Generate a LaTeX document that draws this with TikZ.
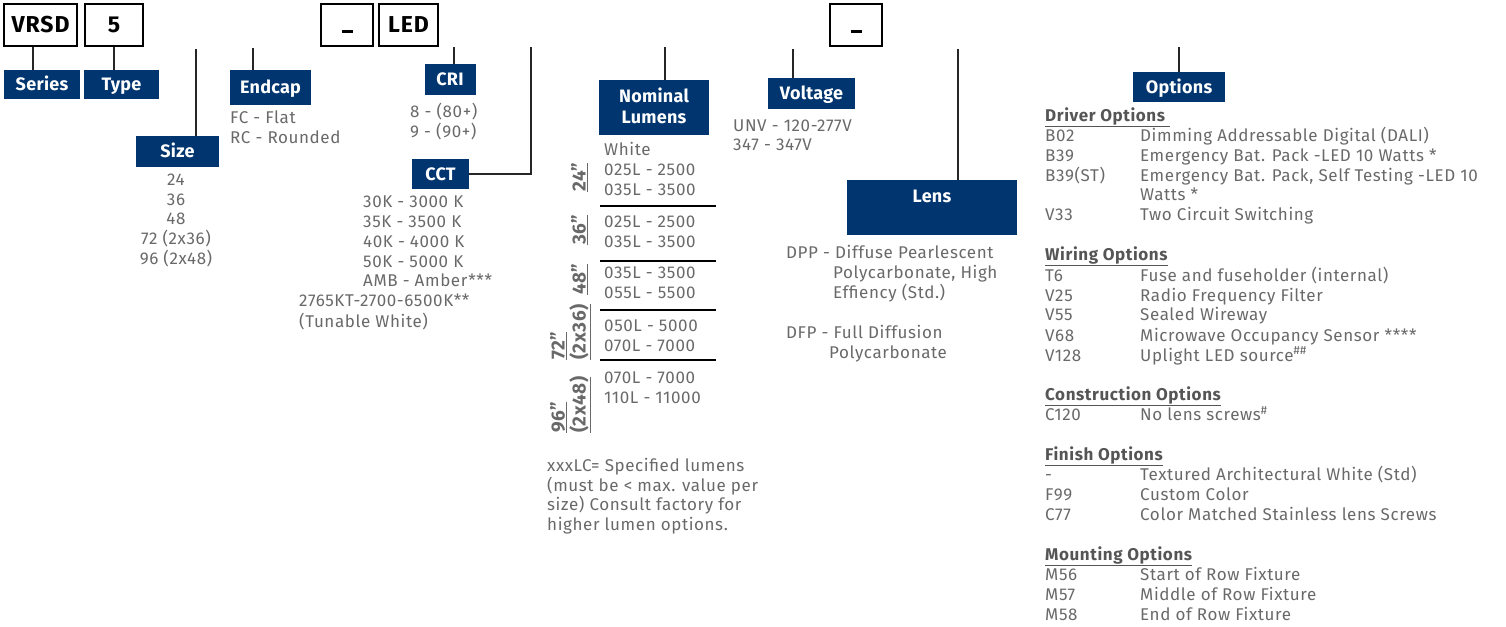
\documentclass[tikz,border=0pt]{standalone}
\usepackage{fontspec}
\setmainfont{Fira Sans}
\newfontfamily\bodyff{Fira Sans}[LetterSpace=3.5]
\newfontfamily\hdrff{Fira Sans}[LetterSpace=1.5]
\newfontfamily\boxff{Fira Sans}[LetterSpace=4]
\newfontfamily\rotff{Fira Sans}[LetterSpace=3]
\definecolor{navy}{RGB}{0,53,112}
\definecolor{txtgray}{RGB}{105,105,105}
\definecolor{hdgray}{RGB}{85,85,85}
\newcommand\fBody{\bodyff\fontsize{17}{20}\selectfont}
\newcommand\fHdr{\hdrff\fontsize{18}{21}\selectfont\bfseries}
\newcommand\fBox{\boxff\fontsize{23}{26}\selectfont\bfseries}
\newcommand\fRot{\rotff\fontsize{19}{22}\selectfont\bfseries}
\newcommand\dashmark{\rule{11pt}{3pt}}
\begin{document}
\begin{tikzpicture}[x=1pt,y=-1pt,
  codebox/.style={draw=black, line width=1.3pt, minimum height=42pt, inner sep=0pt, font=\fBox, text height=15.5pt, text depth=0pt},
  hdr/.style={fill=navy, text=white, font=\fHdr, inner sep=0pt, align=center, text height=12.4pt, text depth=0pt},
  conn/.style={draw=black!85, line width=1.3pt},
  body/.style={text=txtgray, font=\fBody, inner sep=0pt, anchor=base west},
  bodyc/.style={text=txtgray, font=\fBody, inner sep=0pt, anchor=base},
  head/.style={text=hdgray, font=\fBody\bfseries, inner sep=0pt, anchor=base west},
  rot/.style={text=txtgray, font=\fRot, inner sep=0pt, anchor=base west, rotate=90},
  sepline/.style={draw=black, line width=1.4pt}]
\useasboundingbox (0,0) rectangle (1506,626);

% code boxes
\node[codebox, minimum width=73pt] (vrsd) at (40.5,25) {VRSD};
\node[codebox, minimum width=58pt] (five) at (114,25) {5};
\node[codebox, minimum width=52pt] (dashA) at (347,25) {\dashmark};
\node[codebox, minimum width=59pt] (led) at (408.5,25) {LED};
\node[codebox, minimum width=52pt] (dashB) at (856,25) {\dashmark};

% header labels
\node[hdr, minimum width=76pt, minimum height=29pt] (series) at (42,84.5) {Series};
\node[hdr, minimum width=75pt, minimum height=29pt] (type) at (121.5,84.5) {Type};
\node[hdr, minimum width=83pt, minimum height=31pt] (size) at (177.5,151.5) {Size};
\node[hdr, minimum width=81pt, minimum height=35pt] (endcap) at (270.5,87.5) {Endcap};
\node[hdr, minimum width=51pt, minimum height=31pt] (cri) at (450,79.5) {CRI};
\node[hdr, minimum width=57pt, minimum height=30pt] (cct) at (440.5,174) {CCT};
\node[hdr, minimum width=110pt, minimum height=55pt] (nom) at (654,107.5) {};
\node[text=white, font=\fHdr, inner sep=0pt, align=center, anchor=base] (nomA) at (654,102.5) {Nominal};
\node[text=white, font=\fHdr, inner sep=0pt, align=center, anchor=base] (nomB) at (654,123.5) {Lumens};
\node[hdr, minimum width=87pt, minimum height=31pt] (volt) at (811.5,93.5) {Voltage};
\node[hdr, minimum width=170pt, minimum height=55pt] (lens) at (932,207.5) {};
\node[text=white, font=\fHdr, inner sep=0pt, anchor=base] (lenst) at (932,202.5) {Lens};
\node[hdr, minimum width=92pt, minimum height=30pt] (opt) at (1179,87) {Options};

% connectors
\coordinate (sL) at (33,0);
\draw[conn] (vrsd.south -| sL) -- (series.north -| sL);
\draw[conn] (five.south) -- (five.south |- type.north);
\coordinate (sizeTop) at (196,49);
\draw[conn] (sizeTop) -- (sizeTop |- size.north);
\coordinate (endTop) at (253,48);
\draw[conn] (endTop) -- (endTop |- endcap.north);
\coordinate (criTop) at (454,47);
\draw[conn] (criTop) -- (criTop |- cri.north);
\coordinate (cctTop) at (531,47);
\draw[conn] (cctTop) |- (cct.east);
\coordinate (nomTop) at (665,47);
\draw[conn] (nomTop) -- (nomTop |- nom.north);
\coordinate (voltTop) at (793,49);
\draw[conn] (voltTop) -- (voltTop |- volt.north);
\coordinate (lensTop) at (958,49);
\draw[conn] (lensTop) -- (lensTop |- lens.north);
\coordinate (optTop) at (1179,47);
\draw[conn] (optTop) -- (optTop |- opt.north);

% size values
\node[bodyc] (s1) at (176,185.5) {24};
\node[bodyc] (s2) at (176,205) {36};
\node[bodyc] (s3) at (176,224.5) {48};
\node[bodyc] (s4) at (176,244.5) {72 (2x36)};
\node[bodyc] (s5) at (176,264.5) {96 (2x48)};

% endcap values
\node[body] (e1) at (230,123.5) {FC - Flat};
\node[body] (e2) at (230,143.5) {RC - Rounded};

% CRI values
\node[body] (c1) at (410,117.5) {8 - (80+)};
\node[body] (c2) at (410,137.5) {9 - (90+)};

% CCT values
\node[body] (t1) at (363,207.5) {30K - 3000 K};
\node[body] (t2) at (363,227.5) {35K - 3500 K};
\node[body] (t3) at (363,247.5) {40K - 4000 K};
\node[body] (t4) at (363,267.5) {50K - 5000 K};
\node[body] (t5) at (363,286.5) {AMB - Amber***};
\node[body] (t6) at (299,306.5) {2765KT-2700-6500K**};
\node[body] (t7) at (299,327.5) {(Tunable White)};

% lumens
\node[body] (l0) at (604,155.5) {White};
\node[body] (l1) at (604,175.5) {025L - 2500};
\node[body] (l2) at (604,195.5) {035L - 3500};
\node[body] (l3) at (604,227.5) {025L - 2500};
\node[body] (l4) at (604,247.5) {035L - 3500};
\node[body] (l5) at (604,278.5) {035L - 3500};
\node[body] (l6) at (604,298.5) {055L - 5500};
\node[body] (l7) at (604,331.5) {050L - 5000};
\node[body] (l8) at (604,351.5) {070L - 7000};
\node[body] (l9) at (604,383.5) {070L - 7000};
\node[body] (l10) at (604,403.5) {110L - 11000};
\coordinate (sepL) at (600,0);
\coordinate (sepR) at (716,0);
\draw[sepline] (sepL |- 0,206) -- (sepR |- 0,206);
\draw[sepline] (sepL |- 0,261) -- (sepR |- 0,261);
\draw[sepline] (sepL |- 0,310) -- (sepR |- 0,310);
\draw[sepline] (sepL |- 0,360) -- (sepR |- 0,360);

% rotated size labels
\node[rot] (r24) at (585.5,192) {\underline{24”}};
\node[rot] (r36) at (585.5,245) {\underline{36”}};
\node[rot] (r48) at (585.5,295) {\underline{48”}};
\node[rot] (r72) at (564.5,360) {\underline{72”}};
\node[rot] (r72b) at (585.5,360) {\underline{(2x36)}};
\node[rot] (r96) at (564.5,433) {\underline{96”}};
\node[rot] (r96b) at (585.5,433) {\underline{(2x48)}};

% note
\node[body] (n1) at (547,471.5) {xxxLC= Specified lumens};
\node[body] (n2) at (547,491) {(must be < max. value per};
\node[body] (n3) at (547,510.5) {size) Consult factory for};
\node[body] (n4) at (547,530) {higher lumen options.};

% voltage
\node[body] (v1) at (733,131.5) {UNV - 120-277V};
\node[body] (v2) at (733,150.5) {347 - 347V};

% lens
\node[body] (d1) at (786,258.5) {DPP - Diffuse Pearlescent};
\node[body] (d2) at (833,278.5) {Polycarbonate, High};
\node[body] (d3) at (833,298.5) {Effiency (Std.)};
\node[body] (d4) at (786,338.5) {DFP - Full Diffusion};
\node[body] (d5) at (829,358.5) {Polycarbonate};

% options
\node[head] (h1) at (1045,121.5) {\underline{Driver Options\ }};
\node[body] at (1045,141.5) {B02};   \node[body] at (1140,141.5) {Dimming Addressable Digital (DALI)};
\node[body] at (1045,161.5) {B39};   \node[body] at (1140,161.5) {Emergency Bat. Pack -LED 10 Watts *};
\node[body] at (1045,181.5) {B39(ST)}; \node[body] at (1140,181.5) {Emergency Bat. Pack, Self Testing -LED 10};
\node[body] at (1140,200.5) {Watts *};
\node[body] at (1045,220.5) {V33};   \node[body] at (1140,220.5) {Two Circuit Switching};

\node[head] (h2) at (1045,260.5) {\underline{Wiring Options}};
\node[body] at (1045,281) {T6};   \node[body] at (1140,281) {Fuse and fuseholder (internal)};
\node[body] at (1045,301) {V25};  \node[body] at (1140,301) {Radio Frequency Filter};
\node[body] at (1045,320.5) {V55}; \node[body] at (1140,320.5) {Sealed Wireway};
\node[body] at (1045,341) {V68};  \node[body] at (1140,341) {Microwave Occupancy Sensor ****};
\node[body] at (1045,361) {V128}; \node[body] at (1140,361) {Uplight LED source\textsuperscript{\#\#}};

\node[head] (h3) at (1045,400.5) {\underline{Construction Options}};
\node[body] at (1045,420.5) {C120}; \node[body] at (1140,420.5) {No lens screws\textsuperscript{\#}};

\node[head] (h4) at (1045,460.5) {\underline{Finish Options}};
\node[body] at (1045,480.5) {-};   \node[body] at (1140,480.5) {Textured Architectural White (Std)};
\node[body] at (1045,500.5) {F99}; \node[body] at (1140,500.5) {Custom Color};
\node[body] at (1045,520.5) {C77}; \node[body] at (1140,520.5) {Color Matched Stainless lens Screws};

\node[head] (h5) at (1045,560.5) {\underline{Mounting Options}};
\node[body] at (1045,580.5) {M56}; \node[body] at (1140,580.5) {Start of Row Fixture};
\node[body] at (1045,600.5) {M57}; \node[body] at (1140,600.5) {Middle of Row Fixture};
\node[body] at (1045,620) {M58};   \node[body] at (1140,620) {End of Row Fixture};
\end{tikzpicture}
\end{document}
